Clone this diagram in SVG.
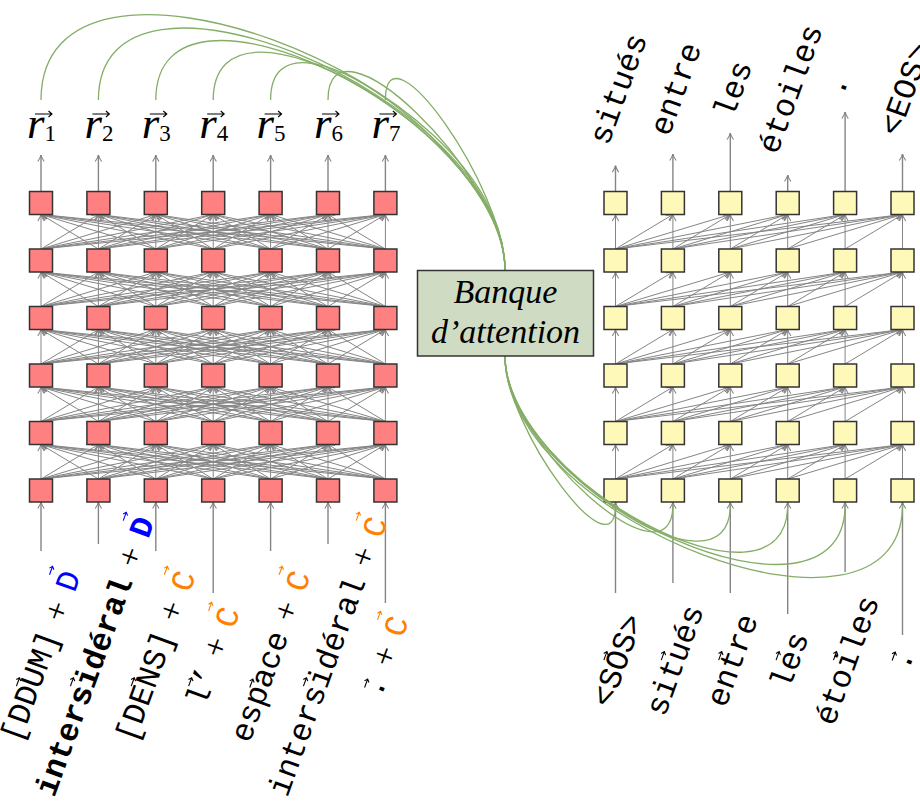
<svg xmlns="http://www.w3.org/2000/svg" xmlns:xlink="http://www.w3.org/1999/xlink" width="920" height="805" viewBox="0 0 920 805">
<style>
.e path{fill:none;stroke:#858585;stroke-width:1;marker-end:url(#ah);}
.a{fill:none;stroke:#858585;stroke-width:1.4;marker-end:url(#ah);}
.g{fill:none;stroke:#84ad66;stroke-width:1.3;}
.enc{fill:#ff8080;stroke:#333;stroke-width:1.5;}
.dec{fill:#fff9b9;stroke:#333;stroke-width:1.5;}
.m{font-family:"Liberation Mono","DejaVu Sans Mono",monospace;font-size:32px;fill:#000;}
.mb{font-family:"Liberation Mono","DejaVu Sans Mono",monospace;font-size:32px;font-weight:bold;}
.c{text-anchor:middle;}
.p{font-family:"Liberation Serif","Times New Roman",serif;font-size:34px;text-anchor:middle;fill:#000;}
.r{font-family:"Liberation Serif","Times New Roman",serif;font-style:italic;font-size:45px;fill:#000;}
.sub{font-style:normal;font-size:23px;}
.ti{font-family:"Liberation Serif","Times New Roman",serif;font-style:italic;font-size:34px;text-anchor:middle;fill:#000;}
.v{fill:none;stroke:#000;stroke-width:1.1;}
.vb{fill:none;stroke:#00f;stroke-width:1.1;}
.vo{fill:none;stroke:#ff8000;stroke-width:1.1;}
.blue{fill:#00f;}
.orange{fill:#ff8000;}
</style>
<defs>
<marker id="ah" viewBox="-8 -4 9 8" refX="0" refY="0" markerWidth="9" markerHeight="8" markerUnits="userSpaceOnUse" orient="auto" style="overflow:visible">
<path d="M-6.5,-3.2 Q-2.5,-0.5 0,0 Q-2.5,0.5 -6.5,3.2" fill="none" stroke="#808080" stroke-width="1.1"/>
</marker>
<g id="encL" class="e">
<path d="M41 0L41 -34.5"/><path d="M41 0L98.4 -34.5"/><path d="M41 0L155.8 -34.5"/><path d="M41 0L213.2 -34.5"/><path d="M41 0L270.6 -34.5"/><path d="M41 0L328 -34.5"/><path d="M41 0L385.4 -34.5"/>
<path d="M98.4 0L41 -34.5"/><path d="M98.4 0L98.4 -34.5"/><path d="M98.4 0L155.8 -34.5"/><path d="M98.4 0L213.2 -34.5"/><path d="M98.4 0L270.6 -34.5"/><path d="M98.4 0L328 -34.5"/><path d="M98.4 0L385.4 -34.5"/>
<path d="M155.8 0L41 -34.5"/><path d="M155.8 0L98.4 -34.5"/><path d="M155.8 0L155.8 -34.5"/><path d="M155.8 0L213.2 -34.5"/><path d="M155.8 0L270.6 -34.5"/><path d="M155.8 0L328 -34.5"/><path d="M155.8 0L385.4 -34.5"/>
<path d="M213.2 0L41 -34.5"/><path d="M213.2 0L98.4 -34.5"/><path d="M213.2 0L155.8 -34.5"/><path d="M213.2 0L213.2 -34.5"/><path d="M213.2 0L270.6 -34.5"/><path d="M213.2 0L328 -34.5"/><path d="M213.2 0L385.4 -34.5"/>
<path d="M270.6 0L41 -34.5"/><path d="M270.6 0L98.4 -34.5"/><path d="M270.6 0L155.8 -34.5"/><path d="M270.6 0L213.2 -34.5"/><path d="M270.6 0L270.6 -34.5"/><path d="M270.6 0L328 -34.5"/><path d="M270.6 0L385.4 -34.5"/>
<path d="M328 0L41 -34.5"/><path d="M328 0L98.4 -34.5"/><path d="M328 0L155.8 -34.5"/><path d="M328 0L213.2 -34.5"/><path d="M328 0L270.6 -34.5"/><path d="M328 0L328 -34.5"/><path d="M328 0L385.4 -34.5"/>
<path d="M385.4 0L41 -34.5"/><path d="M385.4 0L98.4 -34.5"/><path d="M385.4 0L155.8 -34.5"/><path d="M385.4 0L213.2 -34.5"/><path d="M385.4 0L270.6 -34.5"/><path d="M385.4 0L328 -34.5"/><path d="M385.4 0L385.4 -34.5"/>
</g>
<g id="decL" class="e">
<path d="M615.5 0L615.5 -34.5"/><path d="M615.5 0L672.9 -34.5"/><path d="M615.5 0L730.3 -34.5"/><path d="M615.5 0L787.7 -34.5"/><path d="M615.5 0L845.1 -34.5"/><path d="M615.5 0L902.5 -34.5"/>
<path d="M672.9 0L672.9 -34.5"/><path d="M672.9 0L730.3 -34.5"/><path d="M672.9 0L787.7 -34.5"/><path d="M672.9 0L845.1 -34.5"/><path d="M672.9 0L902.5 -34.5"/>
<path d="M730.3 0L730.3 -34.5"/><path d="M730.3 0L787.7 -34.5"/><path d="M730.3 0L845.1 -34.5"/><path d="M730.3 0L902.5 -34.5"/>
<path d="M787.7 0L787.7 -34.5"/><path d="M787.7 0L845.1 -34.5"/><path d="M787.7 0L902.5 -34.5"/>
<path d="M845.1 0L845.1 -34.5"/><path d="M845.1 0L902.5 -34.5"/>
<path d="M902.5 0L902.5 -34.5"/>
</g>
</defs>
<rect width="920" height="805" fill="#fff"/>

<g id="connectors">
<g id="encoder-layers">
<use xlink:href="#encL" href="#encL" transform="translate(0,479)"/>
<use xlink:href="#encL" href="#encL" transform="translate(0,421.5)"/>
<use xlink:href="#encL" href="#encL" transform="translate(0,364)"/>
<use xlink:href="#encL" href="#encL" transform="translate(0,306.5)"/>
<use xlink:href="#encL" href="#encL" transform="translate(0,249)"/>
</g>
<g id="decoder-layers">
<use xlink:href="#decL" href="#decL" transform="translate(0,479)"/>
<use xlink:href="#decL" href="#decL" transform="translate(0,421.5)"/>
<use xlink:href="#decL" href="#decL" transform="translate(0,364)"/>
<use xlink:href="#decL" href="#decL" transform="translate(0,306.5)"/>
<use xlink:href="#decL" href="#decL" transform="translate(0,249)"/>
</g>
<g id="encoder-io">
<path class="a" d="M41 191.5V155"/><path class="a" d="M98.4 191.5V155"/><path class="a" d="M155.8 191.5V155"/><path class="a" d="M213.2 191.5V155"/><path class="a" d="M270.6 191.5V155"/><path class="a" d="M328 191.5V155"/><path class="a" d="M385.4 191.5V155"/>
<path class="a" d="M41 551V502"/><path class="a" d="M98.4 544V502"/><path class="a" d="M155.8 551V502"/><path class="a" d="M213.2 593V502"/><path class="a" d="M270.6 551V502"/><path class="a" d="M328 544V502"/><path class="a" d="M385.4 603V502"/>
</g>
<g id="decoder-io">
<path class="a" d="M615.5 191.5V165.7"/><path class="a" d="M672.9 191.5V154"/><path class="a" d="M730.3 191.5V133"/><path class="a" d="M787.7 191.5V175"/><path class="a" d="M845.1 191.5V112"/><path class="a" d="M902.5 191.5V154"/>
<path class="a" d="M615.5 593V502"/><path class="a" d="M672.9 583V502"/><path class="a" d="M730.3 593V502"/><path class="a" d="M787.7 614V502"/><path class="a" d="M845.1 572V502"/><path class="a" d="M902.5 635V502"/>
</g>
</g>

<g id="encoder-nodes">
<g id="enc-0-1"><rect class="enc" x="29.5" y="191.5" width="23" height="23"/></g>
<g id="enc-0-2"><rect class="enc" x="86.9" y="191.5" width="23" height="23"/></g>
<g id="enc-0-3"><rect class="enc" x="144.3" y="191.5" width="23" height="23"/></g>
<g id="enc-0-4"><rect class="enc" x="201.7" y="191.5" width="23" height="23"/></g>
<g id="enc-0-5"><rect class="enc" x="259.1" y="191.5" width="23" height="23"/></g>
<g id="enc-0-6"><rect class="enc" x="316.5" y="191.5" width="23" height="23"/></g>
<g id="enc-0-7"><rect class="enc" x="373.9" y="191.5" width="23" height="23"/></g>
<g id="enc-1-1"><rect class="enc" x="29.5" y="249" width="23" height="23"/></g>
<g id="enc-1-2"><rect class="enc" x="86.9" y="249" width="23" height="23"/></g>
<g id="enc-1-3"><rect class="enc" x="144.3" y="249" width="23" height="23"/></g>
<g id="enc-1-4"><rect class="enc" x="201.7" y="249" width="23" height="23"/></g>
<g id="enc-1-5"><rect class="enc" x="259.1" y="249" width="23" height="23"/></g>
<g id="enc-1-6"><rect class="enc" x="316.5" y="249" width="23" height="23"/></g>
<g id="enc-1-7"><rect class="enc" x="373.9" y="249" width="23" height="23"/></g>
<g id="enc-2-1"><rect class="enc" x="29.5" y="306.5" width="23" height="23"/></g>
<g id="enc-2-2"><rect class="enc" x="86.9" y="306.5" width="23" height="23"/></g>
<g id="enc-2-3"><rect class="enc" x="144.3" y="306.5" width="23" height="23"/></g>
<g id="enc-2-4"><rect class="enc" x="201.7" y="306.5" width="23" height="23"/></g>
<g id="enc-2-5"><rect class="enc" x="259.1" y="306.5" width="23" height="23"/></g>
<g id="enc-2-6"><rect class="enc" x="316.5" y="306.5" width="23" height="23"/></g>
<g id="enc-2-7"><rect class="enc" x="373.9" y="306.5" width="23" height="23"/></g>
<g id="enc-3-1"><rect class="enc" x="29.5" y="364" width="23" height="23"/></g>
<g id="enc-3-2"><rect class="enc" x="86.9" y="364" width="23" height="23"/></g>
<g id="enc-3-3"><rect class="enc" x="144.3" y="364" width="23" height="23"/></g>
<g id="enc-3-4"><rect class="enc" x="201.7" y="364" width="23" height="23"/></g>
<g id="enc-3-5"><rect class="enc" x="259.1" y="364" width="23" height="23"/></g>
<g id="enc-3-6"><rect class="enc" x="316.5" y="364" width="23" height="23"/></g>
<g id="enc-3-7"><rect class="enc" x="373.9" y="364" width="23" height="23"/></g>
<g id="enc-4-1"><rect class="enc" x="29.5" y="421.5" width="23" height="23"/></g>
<g id="enc-4-2"><rect class="enc" x="86.9" y="421.5" width="23" height="23"/></g>
<g id="enc-4-3"><rect class="enc" x="144.3" y="421.5" width="23" height="23"/></g>
<g id="enc-4-4"><rect class="enc" x="201.7" y="421.5" width="23" height="23"/></g>
<g id="enc-4-5"><rect class="enc" x="259.1" y="421.5" width="23" height="23"/></g>
<g id="enc-4-6"><rect class="enc" x="316.5" y="421.5" width="23" height="23"/></g>
<g id="enc-4-7"><rect class="enc" x="373.9" y="421.5" width="23" height="23"/></g>
<g id="enc-5-1"><rect class="enc" x="29.5" y="479" width="23" height="23"/></g>
<g id="enc-5-2"><rect class="enc" x="86.9" y="479" width="23" height="23"/></g>
<g id="enc-5-3"><rect class="enc" x="144.3" y="479" width="23" height="23"/></g>
<g id="enc-5-4"><rect class="enc" x="201.7" y="479" width="23" height="23"/></g>
<g id="enc-5-5"><rect class="enc" x="259.1" y="479" width="23" height="23"/></g>
<g id="enc-5-6"><rect class="enc" x="316.5" y="479" width="23" height="23"/></g>
<g id="enc-5-7"><rect class="enc" x="373.9" y="479" width="23" height="23"/></g>
</g>

<g id="decoder-nodes">
<g id="dec-0-1"><rect class="dec" x="604" y="191.5" width="23" height="23"/></g>
<g id="dec-0-2"><rect class="dec" x="661.4" y="191.5" width="23" height="23"/></g>
<g id="dec-0-3"><rect class="dec" x="718.8" y="191.5" width="23" height="23"/></g>
<g id="dec-0-4"><rect class="dec" x="776.2" y="191.5" width="23" height="23"/></g>
<g id="dec-0-5"><rect class="dec" x="833.6" y="191.5" width="23" height="23"/></g>
<g id="dec-0-6"><rect class="dec" x="891" y="191.5" width="23" height="23"/></g>
<g id="dec-1-1"><rect class="dec" x="604" y="249" width="23" height="23"/></g>
<g id="dec-1-2"><rect class="dec" x="661.4" y="249" width="23" height="23"/></g>
<g id="dec-1-3"><rect class="dec" x="718.8" y="249" width="23" height="23"/></g>
<g id="dec-1-4"><rect class="dec" x="776.2" y="249" width="23" height="23"/></g>
<g id="dec-1-5"><rect class="dec" x="833.6" y="249" width="23" height="23"/></g>
<g id="dec-1-6"><rect class="dec" x="891" y="249" width="23" height="23"/></g>
<g id="dec-2-1"><rect class="dec" x="604" y="306.5" width="23" height="23"/></g>
<g id="dec-2-2"><rect class="dec" x="661.4" y="306.5" width="23" height="23"/></g>
<g id="dec-2-3"><rect class="dec" x="718.8" y="306.5" width="23" height="23"/></g>
<g id="dec-2-4"><rect class="dec" x="776.2" y="306.5" width="23" height="23"/></g>
<g id="dec-2-5"><rect class="dec" x="833.6" y="306.5" width="23" height="23"/></g>
<g id="dec-2-6"><rect class="dec" x="891" y="306.5" width="23" height="23"/></g>
<g id="dec-3-1"><rect class="dec" x="604" y="364" width="23" height="23"/></g>
<g id="dec-3-2"><rect class="dec" x="661.4" y="364" width="23" height="23"/></g>
<g id="dec-3-3"><rect class="dec" x="718.8" y="364" width="23" height="23"/></g>
<g id="dec-3-4"><rect class="dec" x="776.2" y="364" width="23" height="23"/></g>
<g id="dec-3-5"><rect class="dec" x="833.6" y="364" width="23" height="23"/></g>
<g id="dec-3-6"><rect class="dec" x="891" y="364" width="23" height="23"/></g>
<g id="dec-4-1"><rect class="dec" x="604" y="421.5" width="23" height="23"/></g>
<g id="dec-4-2"><rect class="dec" x="661.4" y="421.5" width="23" height="23"/></g>
<g id="dec-4-3"><rect class="dec" x="718.8" y="421.5" width="23" height="23"/></g>
<g id="dec-4-4"><rect class="dec" x="776.2" y="421.5" width="23" height="23"/></g>
<g id="dec-4-5"><rect class="dec" x="833.6" y="421.5" width="23" height="23"/></g>
<g id="dec-4-6"><rect class="dec" x="891" y="421.5" width="23" height="23"/></g>
<g id="dec-5-1"><rect class="dec" x="604" y="479" width="23" height="23"/></g>
<g id="dec-5-2"><rect class="dec" x="661.4" y="479" width="23" height="23"/></g>
<g id="dec-5-3"><rect class="dec" x="718.8" y="479" width="23" height="23"/></g>
<g id="dec-5-4"><rect class="dec" x="776.2" y="479" width="23" height="23"/></g>
<g id="dec-5-5"><rect class="dec" x="833.6" y="479" width="23" height="23"/></g>
<g id="dec-5-6"><rect class="dec" x="891" y="479" width="23" height="23"/></g>
</g>

<g id="attention-links">
<path class="g" d="M41,100 C41,-93.5 505,76.5 505,270"/>
<path class="g" d="M98.4,100 C98.4,-72.5 505,97.5 505,270"/>
<path class="g" d="M155.8,100 C155.8,-52.1 505,117.9 505,270"/>
<path class="g" d="M213.2,100 C213.2,-32.2 505,137.8 505,270"/>
<path class="g" d="M270.6,100 C270.6,-13.4 505,156.6 505,270"/>
<path class="g" d="M328,100 C328,3.9 505,173.9 505,270"/>
<path class="g" d="M385.4,100 C385.4,18.6 505,188.6 505,270"/>
<path class="g" d="M505,356 C505,428.6 615.5,577.6 615.5,505"/>
<path class="g" d="M505,356 C505,443.9 672.9,592.9 672.9,505"/>
<path class="g" d="M505,356 C505,461.7 730.3,610.7 730.3,505"/>
<path class="g" d="M505,356 C505,481.1 787.7,630.1 787.7,505"/>
<path class="g" d="M505,356 C505,501.4 845.1,650.4 845.1,505"/>
<path class="g" d="M505,356 C505,522.2 902.5,671.2 902.5,505"/>
</g>

<g id="attention-bank">
<rect x="417.5" y="270.5" width="176" height="85.5" fill="#cfdcc3" stroke="#333" stroke-width="1.5"/>
<text class="ti" x="505.5" y="303">Banque</text>
<text class="ti" x="505.5" y="343">d’attention</text>
</g>

<g id="encoder-outputs">
<g id="r1"><text class="r" x="27" y="138">r<tspan class="sub" dy="2.5">1</tspan></text><path class="v" stroke-width="1.3" d="M35 114H52M48.5 111L52 114L48.5 117"/></g>
<g id="r2"><text class="r" x="84.4" y="138">r<tspan class="sub" dy="2.5">2</tspan></text><path class="v" stroke-width="1.3" d="M92.4 114H109.4M105.9 111L109.4 114L105.9 117"/></g>
<g id="r3"><text class="r" x="141.8" y="138">r<tspan class="sub" dy="2.5">3</tspan></text><path class="v" stroke-width="1.3" d="M149.8 114H166.8M163.3 111L166.8 114L163.3 117"/></g>
<g id="r4"><text class="r" x="199.2" y="138">r<tspan class="sub" dy="2.5">4</tspan></text><path class="v" stroke-width="1.3" d="M207.2 114H224.2M220.7 111L224.2 114L220.7 117"/></g>
<g id="r5"><text class="r" x="256.6" y="138">r<tspan class="sub" dy="2.5">5</tspan></text><path class="v" stroke-width="1.3" d="M264.6 114H281.6M278.1 111L281.6 114L278.1 117"/></g>
<g id="r6"><text class="r" x="314" y="138">r<tspan class="sub" dy="2.5">6</tspan></text><path class="v" stroke-width="1.3" d="M322 114H339M335.5 111L339 114L335.5 117"/></g>
<g id="r7"><text class="r" x="371.4" y="138">r<tspan class="sub" dy="2.5">7</tspan></text><path class="v" stroke-width="1.3" d="M379.4 114H396.4M392.9 111L396.4 114L392.9 117"/></g>
</g>

<g id="encoder-inputs">
<g id="in1" transform="translate(43,657) rotate(-70)">
<text class="m" x="-89.6" y="8">[DDUM]</text><path class="v" d="M-36.5,-15H-27.5M-30.3,-17.4L-27.5,-15L-30.3,-12.6"/>
<text class="p" x="48" y="8">+</text>
<text class="m c blue" x="80" y="8">D</text><path class="vb" d="M79.5,-22H88.5M85.7,-24.4L88.5,-22L85.7,-19.6"/>
</g>
<g id="in2" transform="translate(97,657) rotate(-70)">
<text class="mb" x="-147.2" y="8">intersidéral</text><path class="v" stroke-width="1.6" d="M-36.5,-15H-27.5M-30.3,-17.4L-27.5,-15L-30.3,-12.6"/>
<text class="p" x="105.6" y="8">+</text>
<text class="mb c blue" x="137.6" y="8">D</text><path class="vb" stroke-width="1.6" d="M137.1,-22H146.1M143.3,-24.4L146.1,-22L143.3,-19.6"/>
</g>
<g id="in3" transform="translate(157.8,657) rotate(-70)">
<text class="m" x="-89.6" y="8">[DENS]</text><path class="v" d="M-36.5,-15H-27.5M-30.3,-17.4L-27.5,-15L-30.3,-12.6"/>
<text class="p" x="48" y="8">+</text>
<text class="m c orange" x="80" y="8">C</text><path class="vo" d="M79.5,-22H88.5M85.7,-24.4L88.5,-22L85.7,-19.6"/>
</g>
<g id="in4" transform="translate(215.2,657) rotate(-70)">
<text class="m" x="-51.2" y="8">l’</text><path class="v" d="M-36.5,-15H-27.5M-30.3,-17.4L-27.5,-15L-30.3,-12.6"/>
<text class="p" x="9.6" y="8">+</text>
<text class="m c orange" x="41.6" y="8">C</text><path class="vo" d="M41.1,-22H50.1M47.3,-24.4L50.1,-22L47.3,-19.6"/>
</g>
<g id="in5" transform="translate(272.6,657) rotate(-70)">
<text class="m" x="-89.6" y="8">espace</text><path class="v" d="M-36.5,-11H-27.5M-30.3,-13.4L-27.5,-11L-30.3,-8.6"/>
<text class="p" x="48" y="8">+</text>
<text class="m c orange" x="80" y="8">C</text><path class="vo" d="M79.5,-22H88.5M85.7,-24.4L88.5,-22L85.7,-19.6"/>
</g>
<g id="in6" transform="translate(330,657) rotate(-70)">
<text class="m" x="-147.2" y="8">intersidéral</text><path class="v" d="M-36.5,-15H-27.5M-30.3,-17.4L-27.5,-15L-30.3,-12.6"/>
<text class="p" x="105.6" y="8">+</text>
<text class="m c orange" x="137.6" y="8">C</text><path class="vo" d="M137.1,-22H146.1M143.3,-24.4L146.1,-22L143.3,-19.6"/>
</g>
<g id="in7" transform="translate(387.4,657) rotate(-70)">
<text class="m" x="-41.6" y="8">.</text><path class="v" d="M-36.5,-11H-27.5M-30.3,-13.4L-27.5,-11L-30.3,-8.6"/>
<text class="p" x="0" y="8">+</text>
<text class="m c orange" x="32" y="8">C</text><path class="vo" d="M31.5,-22H40.5M37.7,-24.4L40.5,-22L37.7,-19.6"/>
</g>
</g>

<g id="decoder-inputs">
<g id="din1" transform="translate(619.5,661) rotate(-70)"><text class="m c" x="0" y="8">&lt;SOS&gt;</text><path class="v" d="M-4.5,-15H4.5M1.7,-17.4L4.5,-15L1.7,-12.6"/></g>
<g id="din2" transform="translate(676.9,661) rotate(-70)"><text class="m c" x="0" y="8">situés</text><path class="v" d="M-4.5,-15H4.5M1.7,-17.4L4.5,-15L1.7,-12.6"/></g>
<g id="din3" transform="translate(734.3,661) rotate(-70)"><text class="m c" x="0" y="8">entre</text><path class="v" d="M-4.5,-15H4.5M1.7,-17.4L4.5,-15L1.7,-12.6"/></g>
<g id="din4" transform="translate(791.7,661) rotate(-70)"><text class="m c" x="0" y="8">les</text><path class="v" d="M-4.5,-15H4.5M1.7,-17.4L4.5,-15L1.7,-12.6"/></g>
<g id="din5" transform="translate(849.1,661) rotate(-70)"><text class="m c" x="0" y="8">étoiles</text><path class="v" d="M-4.5,-15H4.5M1.7,-17.4L4.5,-15L1.7,-12.6"/></g>
<g id="din6" transform="translate(904,660) rotate(-70)"><text class="m c" x="0" y="8">.</text><path class="v" d="M-4.5,-11H4.5M1.7,-13.4L4.5,-11L1.7,-8.6"/></g>
</g>

<g id="decoder-outputs">
<g id="dout1" transform="translate(618.5,89) rotate(-70)"><text class="m c" x="0" y="10">situés</text></g>
<g id="dout2" transform="translate(675.9,89) rotate(-70)"><text class="m c" x="0" y="10">entre</text></g>
<g id="dout3" transform="translate(733.3,89) rotate(-70)"><text class="m c" x="0" y="10">les</text></g>
<g id="dout4" transform="translate(790.7,89) rotate(-70)"><text class="m c" x="0" y="10">étoiles</text></g>
<g id="dout5" transform="translate(838.5,85.5) rotate(-70)"><text class="m c" x="0" y="8">.</text></g>
<g id="dout6" transform="translate(905.5,89) rotate(-70)"><text class="m c" x="0" y="10">&lt;EOS&gt;</text></g>
</g>
</svg>
